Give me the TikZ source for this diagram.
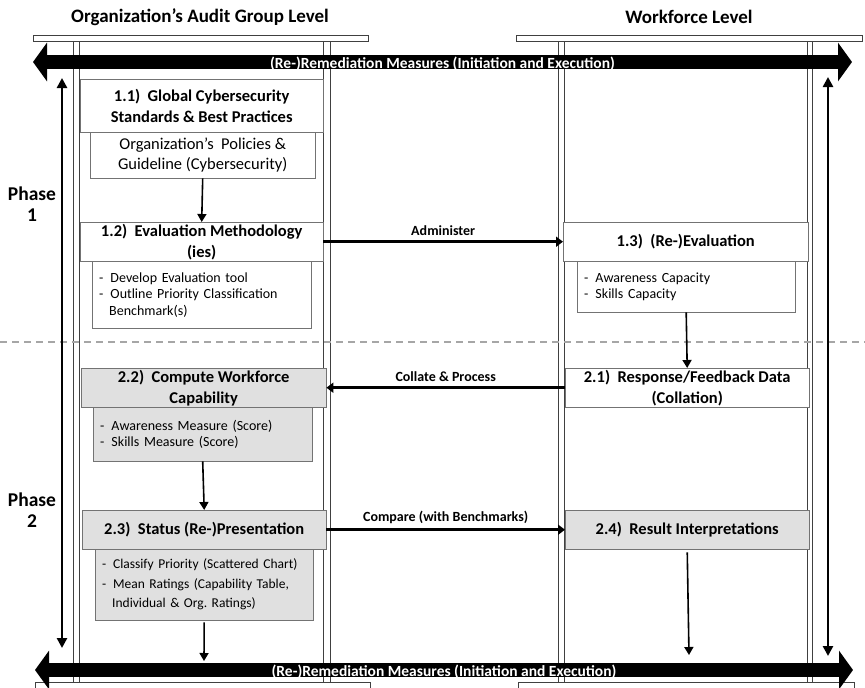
\documentclass[tikz,border=0pt]{standalone}
\usepackage{fontspec}
\setmainfont{Carlito}
\usetikzlibrary{arrows.meta}
\frenchspacing

\begin{document}
\begin{tikzpicture}[x=1pt,y=-1pt,
    box/.style={draw=black!55,fill=#1,anchor=north west,inner sep=0pt,align=center,
      font=\bfseries\fontsize{16.5}{21}\selectfont},
    box/.default=white,
    sub/.style={draw=black!55,fill=#1,anchor=north west,inner xsep=7pt,inner ysep=0pt,align=left,
      font=\fontsize{14}{16.5}\selectfont},
    sub/.default=white,
    link/.style={line width=3.5pt,-{Triangle[length=7pt,width=10pt]}},
    down/.style={line width=1.6pt,-{Triangle[length=8pt,width=9pt]}},
    lbl/.style={font=\bfseries\fontsize{14}{16}\selectfont},
    pillar/.style={black!75,line width=.8pt},
    remedy/.style={line width=14pt,{Triangle[length=14pt,width=38pt]}-{Triangle[length=14pt,width=38pt]}},
    phase/.style={line width=2.6pt,{Triangle[length=10pt,width=10pt]}-{Triangle[length=10pt,width=10pt]}},
  ]
  \useasboundingbox (0,0) rectangle (865,688);

  \node[font=\bfseries\fontsize{19}{22}\selectfont] (orgtitle) at (200,17) {Organization’s Audit Group Level};
  \node[font=\bfseries\fontsize{19}{22}\selectfont] (wftitle) at (689,17) {Workforce Level};

  \draw[black!75,line width=.8pt] (33,35) rectangle (368,41) (516,35) rectangle (862,41);
  \draw[black!75,line width=.8pt] (35,682) rectangle (370,692) (518,682) rectangle (854,692);
  \foreach \x in {73,79,323,330,558,564,807,812}
    \draw[pillar] (\x,41) -- (\x,682);

  \draw[black!35,line width=2.5pt,dash pattern=on 7pt off 5pt] (0,342) -- (865,342);

  \node[box, minimum width=243, minimum height=53] (std) at (80,79)
    {1.1)\ \ Global Cybersecurity\\Standards \& Best Practices};
  \node[box, minimum width=225, minimum height=46, font=\fontsize{16.5}{20}\selectfont] (pol) at (90,132)
    {Organization’s\ \ Policies \&\\Guideline (Cybersecurity)};
  \node[box, minimum width=243, minimum height=39] (evm) at (80,222)
    {1.2)\ \ Evaluation Methodology\\(ies)};
  \node[sub, text width=205, minimum height=67] (evmsub) at (92,261)
    {-\enspace Develop Evaluation tool\\-\enspace Outline Priority Classification\\\hspace*{10pt}Benchmark(s)};
  \node[sub, text width=204, minimum height=51] (reevsub) at (577,261)
    {-\enspace Awareness Capacity\\-\enspace Skills Capacity};
  \node[box, minimum width=245, minimum height=39] (reev) at (563,222)
    {1.3)\ \ (Re-)Evaluation};

  \node[box, minimum width=244, minimum height=39] (resp) at (565,368)
    {2.1)\ \ Response/Feedback Data\\(Collation)};
  \node[box=black!12, minimum width=245, minimum height=39] (comp) at (81,368)
    {2.2)\ \ Compute Workforce\\Capability};
  \node[sub=black!12, text width=205, minimum height=54] (compsub) at (93,407)
    {-\enspace Awareness Measure (Score)\\-\enspace Skills Measure (Score)};
  \node[sub=black!12, text width=204, minimum height=71, font=\fontsize{13.5}{19.5}\selectfont] (statsub) at (95,549)
    {-\enspace Classify Priority (Scattered Chart)\\-\enspace Mean Ratings (Capability Table,\\\hspace*{10pt}Individual \& Org. Ratings)};
  \node[box=black!12, minimum width=244, minimum height=39] (stat) at (82,510)
    {2.3)\ \ Status (Re-)Presentation};
  \node[box=black!12, minimum width=244, minimum height=39] (interp) at (565,510)
    {2.4)\ \ Result Interpretations};

  \coordinate (rmtopl) at (33,62);
  \coordinate (rmtopr) at (852,62);
  \coordinate (rmbotl) at (35,670);
  \coordinate (rmbotr) at (853,670);
  \draw[remedy] (rmtopl) -- (rmtopr)
    node[midway,yshift=-1.5pt,text=white,font=\bfseries\fontsize{15.5}{16}\selectfont] (rmtop) {(Re-)Remediation Measures (Initiation and Execution)};
  \draw[remedy] (rmbotl) -- (rmbotr)
    node[midway,yshift=-1.5pt,text=white,font=\bfseries\fontsize{15.5}{16}\selectfont] (rmbot) {(Re-)Remediation Measures (Initiation and Execution)};

  \coordinate (ph1top) at (62,78);
  \coordinate (ph1bot) at (62,648);
  \coordinate (ph2top) at (828,77);
  \coordinate (ph2bot) at (828,656);
  \draw[phase] (ph1top) -- (ph1bot);
  \draw[phase] (ph2top) -- (ph2bot);
  \node[font=\bfseries\fontsize{19.5}{21}\selectfont,align=center] (phaseone) at (32,204) {Phase\\1};
  \node[font=\bfseries\fontsize{19.5}{21}\selectfont,align=center] (phasetwo) at (32,510) {Phase\\2};

  \draw[down] (pol.south) -- (evm.north);
  \draw[link] (evm.east) -- (reev.west) node[midway,above=1pt,lbl] {Administer};
  \draw[down] (reevsub.south) -- (resp.north);
  \draw[link] (resp.west) -- (comp.east) node[midway,above=1pt,lbl] {Collate \& Process};
  \draw[down] (compsub.south) -- (stat.north);
  \draw[link] (stat.east) -- (interp.west) node[midway,above=1pt,lbl] {Compare (with Benchmarks)};
  \coordinate (statend) at (204,661);
  \coordinate (interpend) at (689,655);
  \draw[down,shorten <=2pt] (statsub.south) -- (statend);
  \draw[down,shorten <=3pt] (interp.south) -- (interpend);
\end{tikzpicture}
\end{document}
